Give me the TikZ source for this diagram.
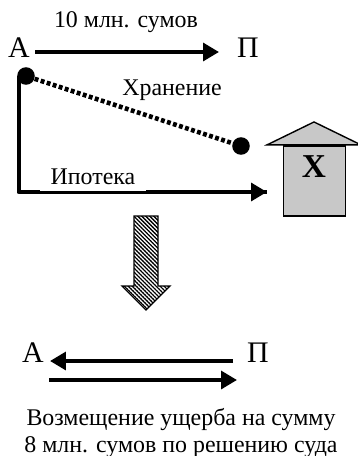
\documentclass[tikz,border=0pt]{standalone}
\usepackage{fontspec}
\setmainfont{Liberation Serif}
\usepackage{tikz}
\usetikzlibrary{positioning,shapes,arrows.meta,patterns.meta,calc}
\definecolor{housegray}{HTML}{C8C8C8}
\tikzset{
  flowline/.style={line width=2.8pt, -{Triangle[length=9pt, width=10pt]}},
  letter/.style={font=\fontsize{17}{17}\selectfont, inner sep=0pt},
  caption/.style={font=\fontsize{13.6}{15}\selectfont, inner sep=0pt, align=center},
  dotnode/.style={circle, fill=black, inner sep=0pt, minimum size=10pt}
}

\begin{document}
\begin{tikzpicture}[x=0.02cm, y=-0.02cm]
\useasboundingbox (0,0) rectangle (358,456);
% Top transfer
\node[letter] (A1) at (19,48) {А};
\node[letter] (P1) at (248,48) {П};
\coordinate (A1out) at (35,52);
\coordinate (P1in) at (219,52);
\draw[flowline] (A1out) -- (P1in);
\node[caption] (sum) at (126,22) {10 млн. сумов};

% Storage link
\node[dotnode] (dotA) at (26,76) {};
\node[dotnode] (dotX) at (241,146) {};
\draw[line width=2.6pt, dash pattern=on 2.2pt off 1.4pt] (dotA) -- (dotX);
\node[caption] (store) at (172,90) {Хранение};

% House
\node[draw, thick, fill=housegray, minimum width=35.5pt, minimum height=40pt, inner sep=0pt] (house) at (314.5,181) {};
\node[draw, thick, fill=housegray, isosceles triangle, isosceles triangle apex angle=128, shape border rotate=90, inner sep=0pt, minimum height=13pt, minimum width=51pt] (roof) at (314,134) {};
\node[font=\fontsize{19}{19}\selectfont\bfseries, inner sep=0pt] (X) at (314,167) {X};

% Mortgage line
\coordinate (corner) at (19,192);
\coordinate (houseIn) at (267,192);
\draw[line width=2.8pt, line join=round] (corner |- dotA) -- (corner) -- (houseIn);
\draw[flowline] (corner) -- (houseIn);
\node[caption, fill=white, minimum width=60pt, minimum height=16pt] (ipoteka) at (93,177) {Ипотека};

% Transition arrow
\draw[thick, line join=miter, pattern={Lines[angle=-45, distance=1.6pt, line width=0.75pt]}]
    (134,216) -- (158,216) -- (158,286) -- (170,286) -- (146,310) -- (122,286) -- (134,286) -- cycle;

% Bottom transfers
\node[letter] (A2) at (33,353) {А};
\node[letter] (P2) at (258,353) {П};
\coordinate (backS) at (233,361);
\coordinate (backE) at (50,361);
\coordinate (foreS) at (49,380);
\coordinate (foreE) at (237,380);
\draw[flowline] (backS) -- (backE);
\draw[flowline] (foreS) -- (foreE);

\node[caption] (damage) at (181,433) {Возмещение ущерба на сумму\\8 млн. сумов по решению суда};
\end{tikzpicture}
\end{document}
